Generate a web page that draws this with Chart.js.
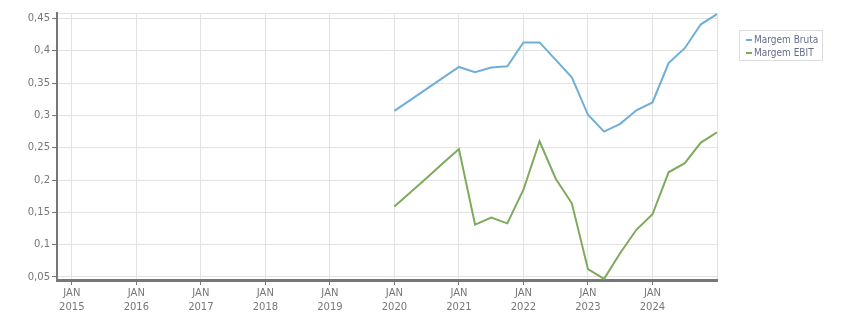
<!DOCTYPE html>
<html>
<head>
<meta charset="utf-8">
<script src="https://cdn.jsdelivr.net/npm/chart.js@4/dist/chart.umd.min.js"></script>
<style>
  html, body { margin: 0; padding: 0; background: #fff; }
  #wrap { position: relative; width: 851px; height: 313px; }
  #legend {
    position: absolute; left: 739px; top: 30px; width: 82px; height: 27px;
    border: 1px solid #ddd; font: 10px "DejaVu Sans Condensed", "DejaVu Sans", sans-serif; color: #646e88;
    padding-top: 2px;
  }
  #legend div { height: 13px; line-height: 13px; white-space: nowrap; padding-left: 14px; position: relative; }
  #legend span { position: absolute; left: 6px; top: 6px; width: 6px; height: 2px; }
</style>
</head>
<body>
<div id="wrap">
  <canvas id="chart" width="851" height="313"></canvas>
  <div id="legend"></div>
</div>
<script>
// quarterly periods (year-month)
const periods = [
  "2020-01", "2020-04", "2020-07", "2020-10",
  "2021-01", "2021-04", "2021-07", "2021-10",
  "2022-01", "2022-04", "2022-07", "2022-10",
  "2023-01", "2023-04", "2023-07", "2023-10",
  "2024-01", "2024-04", "2024-07", "2024-10",
  "2025-01",
];
const margemBruta = [
  0.307, 0.324, 0.341, 0.358, 0.375, 0.367, 0.374, 0.376,
  0.413, 0.413, 0.386, 0.359, 0.301, 0.275, 0.287, 0.308,
  0.320, 0.381, 0.404, 0.441, 0.457,
];
const margemEbit = [
  0.159, 0.181, 0.203, 0.226, 0.248, 0.131, 0.142, 0.133,
  0.185, 0.260, 0.202, 0.164, 0.062, 0.047, 0.087, 0.123,
  0.147, 0.212, 0.226, 0.258, 0.274,
];
const yearTicks = [2015, 2016, 2017, 2018, 2019, 2020, 2021, 2022, 2023, 2024];
const valueTicks = [0.05, 0.1, 0.15, 0.2, 0.25, 0.3, 0.35, 0.4, 0.45];

const seriesNames = ["Margem Bruta", "Margem EBIT"];
const seriesColors = ["#6fafd7", "#7daa5c"];

const xMin = 2014.77, xMax = 2025;
const yMin = 0.0453, yMax = 0.4585;

const toYear = (p) => {
  const [y, m] = p.split("-").map(Number);
  return y + (m - 1) / 12;
};
const toPoints = (vals) => vals.map((v, i) => ({ x: toYear(periods[i]), y: v }));
const fmt = (v) => v.toFixed(2).replace(/0$/, "").replace(".", ",");

const font = { family: "'DejaVu Sans', sans-serif", size: 10 };

new Chart(document.getElementById("chart"), {
  type: "line",
  data: {
    datasets: [margemBruta, margemEbit].map((vals, i) => ({
      label: seriesNames[i],
      data: toPoints(vals),
      borderColor: seriesColors[i],
      borderWidth: 2,
      pointRadius: 0,
      tension: 0,
      fill: false,
    })),
  },
  options: {
    responsive: false,
    animation: false,
    layout: { padding: { left: 0, right: 134, top: 13, bottom: 0 } },
    plugins: { legend: { display: false }, tooltip: { enabled: false } },
    scales: {
      x: {
        type: "linear",
        min: xMin,
        max: xMax,
        afterBuildTicks: (s) => {
          s.ticks = yearTicks.concat([xMax]).map((v) => ({ value: v }));
        },
        afterFit: (s) => { s.height = 33; },
        grid: {
          color: "#e2e2e2",
          tickLength: 5,
          tickColor: (c) => (c.tick && c.tick.value === xMax ? "rgba(0,0,0,0)" : "#777"),
        },
        border: { color: "#777", width: 3 },
        ticks: {
          autoSkip: false,
          maxRotation: 0,
          padding: 2,
          color: "#777",
          font: { ...font, lineHeight: 1.35 },
          callback: (v) => (v === xMax ? "" : ["JAN", String(v)]),
        },
      },
      y: {
        min: yMin,
        max: yMax,
        afterBuildTicks: (s) => {
          s.ticks = valueTicks.concat([yMax]).map((v) => ({ value: v }));
        },
        afterFit: (s) => { s.width = 57; },
        grid: {
          color: "#e2e2e2",
          tickLength: 5,
          tickColor: (c) => (c.tick && c.tick.value === yMax ? "rgba(0,0,0,0)" : "#777"),
        },
        border: { color: "#777", width: 2 },
        ticks: {
          padding: 2,
          color: "#777",
          font,
          callback: (v) => (v === yMax ? "" : fmt(v)),
        },
      },
    },
  },
});

const legend = document.getElementById("legend");
seriesNames.forEach((name, i) => {
  const row = document.createElement("div");
  row.innerHTML = `<span style="background:${seriesColors[i]}"></span>${name}`;
  legend.appendChild(row);
});
</script>
</body>
</html>
